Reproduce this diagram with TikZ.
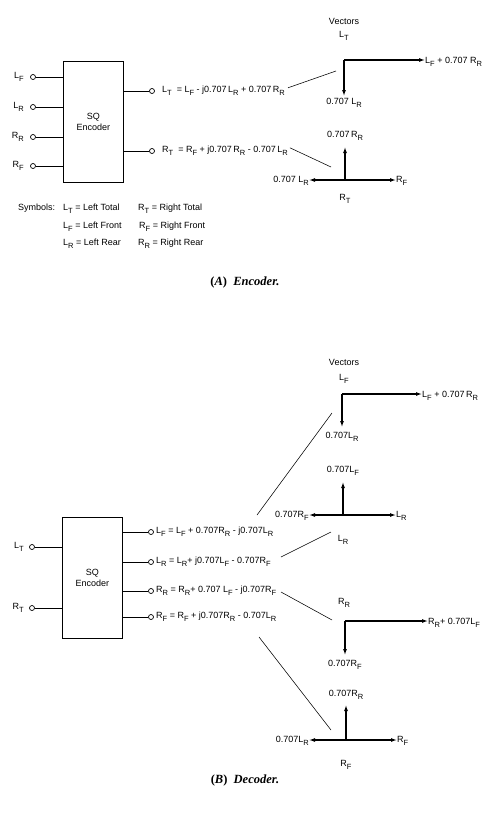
\documentclass[tikz,border=0pt]{standalone}
\usepackage{fontspec}
\setmainfont{Liberation Sans}
\newfontfamily\capfont{Liberation Serif}
\usetikzlibrary{arrows.meta,calc}
\newcommand\Sb[1]{\raisebox{-0.6ex}{\fontsize{7.5}{8}\selectfont #1}}
\newcommand\Lq[1]{L\Sb{#1}}
\newcommand\Rq[1]{R\Sb{#1}}
\begin{document}
\begin{tikzpicture}[x=1pt,y=-1pt,font=\fontsize{9}{10.5}\selectfont,
  blk/.style={draw,line width=0.8pt,minimum width=60pt,minimum height=121pt,anchor=north west,align=center,inner sep=0pt},
  term/.style={circle,draw,fill=white,inner sep=0pt,minimum size=5pt,line width=0.7pt},
  wire/.style={line width=0.9pt},
  vec/.style={line width=1.1pt,-{Latex[length=6pt,width=4pt]}},
  lead/.style={line width=0.55pt},
  txt/.style={inner sep=0pt},
  captxt/.style={inner sep=0pt,font=\capfont\bfseries\fontsize{12.5}{14}\selectfont}]
\useasboundingbox (0,0) rectangle (498,817);
% ================= ENCODER =================
\node[blk] (enc) at (63,61) {SQ\\Encoder};
\foreach \n/\y/\t in {iLF/77/\Lq{F}, iLR/107/\Lq{R}, iRR/137/\Rq{R}, iRF/166/\Rq{F}}{
  \node[term] (\n) at (33,\y) {};
  \node[txt,anchor=mid east] (\n l) at (24,\y-1) {\t};
  \draw[wire] (\n.east) -- (\n.east -| enc.west);
}
\node[term] (oLT) at (152,91) {};
\node[term] (oRT) at (152,151) {};
\draw[wire] (enc.east |- oLT) -- (oLT.west);
\draw[wire] (enc.east |- oRT) -- (oRT.west);
\node[txt,anchor=mid west] (eLT) at (162,90) {\Lq{T}\ \ = \Lq{F} - j0.707\,\Lq{R} + 0.707\,\Rq{R}};
\node[txt,anchor=mid west] (eRT) at (162,150) {\Rq{T}\ \ = \Rq{F} + j0.707\,\Rq{R} - 0.707\,\Lq{R}};
% vectors
\node[txt] (vecA) at (344,21) {Vectors};
\node[txt] (ltA) at (344,36) {\Lq{T}};
\coordinate (cLT) at (344,60);
\node[txt,anchor=mid west] (cLTr) at (425,61) {\Lq{F} + 0.707 \Rq{R}};
\node[txt,anchor=north] (cLTd) at (344,98) {0.707 \Lq{R}};
\draw[vec] (cLT) -- (cLT -| cLTr.west);
\draw[vec,shorten >=2pt] (cLT) -- (cLT |- cLTd.north);
\coordinate (cRT) at (345,180);
\node[txt] (cRTu) at (345,136) {0.707\,\Rq{R}};
\node[txt,anchor=mid east] (cRTl) at (309,180) {0.707 \Lq{R}};
\node[txt,anchor=mid west] (cRTr) at (396,180) {\Rq{F}};
\node[txt] (cRTb) at (345,199) {\Rq{T}};
\draw[vec] (cRT) -- (345,147);
\draw[vec] (cRT) -- (cRT -| cRTl.east);
\draw[vec] (cRT) -- (cRT -| cRTr.west);
\coordinate (aA1) at (336,71);
\coordinate (aA2) at (331,167);
\draw[lead] ($(eLT.east)+(3,-3)$) -- (aA1);
\draw[lead] ($(eRT.east)+(2,-3)$) -- (aA2);
% symbols
\node[txt,anchor=mid west] (sym) at (18,208) {Symbols:};
\node[txt,anchor=mid west] (s1) at (63,208) {\Lq{T} = Left Total};
\node[txt,anchor=mid west] (s2) at (63,226) {\Lq{F} = Left Front};
\node[txt,anchor=mid west] (s3) at (63,243) {\Lq{R} = Left Rear};
\node[txt,anchor=mid west] (s4) at (138,208) {\Rq{T} = Right Total};
\node[txt,anchor=mid west] (s5) at (139,226) {\Rq{F} = Right Front};
\node[txt,anchor=mid west] (s6) at (138,243) {\Rq{R} = Right Rear};
\node[captxt] (capA) at (245,282) {(\textit{A})\ \ \textit{Encoder.}};
% ================= DECODER =================
\node[blk] (dec) at (62,517) {SQ\\Encoder};
\node[term] (iLT) at (32,547) {};
\node[term] (iRT) at (32,608) {};
\node[txt,anchor=mid east] (iLTl) at (24,546) {\Lq{T}};
\node[txt,anchor=mid east] (iRTl) at (24,607) {\Rq{T}};
\draw[wire] (iLT.east) -- (iLT.east -| dec.west);
\draw[wire] (iRT.east) -- (iRT.east -| dec.west);
\foreach \n/\y in {o1/532, o2/562, o3/591, o4/617}{
  \node[term] (\n) at (151,\y) {};
  \draw[wire] (dec.east |- \n) -- (\n.west);
}
\node[txt,anchor=mid west] (e1) at (156,531) {\Lq{F} = \Lq{F} + 0.707\Rq{R} - j0.707\Lq{R}};
\node[txt,anchor=mid west] (e2) at (156,561) {\Lq{R} = \Lq{R}+ j0.707\Lq{F} - 0.707\Rq{F}};
\node[txt,anchor=mid west] (e3) at (156,590) {\Rq{R} = \Rq{R}+ 0.707 \Lq{F} - j0.707\Rq{F}};
\node[txt,anchor=mid west] (e4) at (156,616) {\Rq{F} = \Rq{F} + j0.707\Rq{R} - 0.707\Lq{R}};
% vectors
\node[txt] (vecB) at (344,362) {Vectors};
\node[txt] (lfB) at (344,379) {\Lq{F}};
\coordinate (c1) at (342,394);
\node[txt,anchor=mid west] (c1r) at (422,395) {\Lq{F} + 0.707\,\Rq{R}};
\node[txt,anchor=north] (c1d) at (342,432) {0.707\Lq{R}};
\draw[vec] (c1) -- (c1 -| c1r.west);
\draw[vec] (c1) -- (342,427);
\coordinate (c2) at (343,515);
\node[txt] (c2u) at (343,471) {0.707\Lq{F}};
\node[txt,anchor=mid east] (c2l) at (309,515) {0.707\Rq{F}};
\node[txt,anchor=mid west] (c2r) at (396,515) {\Lq{R}};
\node[txt] (c2b) at (343,540) {\Lq{R}};
\draw[vec] (c2) -- (343,482);
\draw[vec] (c2) -- (c2 -| c2l.east);
\draw[vec] (c2) -- (c2 -| c2r.west);
\node[txt] (rrB) at (344,603) {\Rq{R}};
\coordinate (c3) at (345,621);
\node[txt,anchor=mid west] (c3r) at (428,622) {\Rq{R}+ 0.707\Lq{F}};
\node[txt,anchor=north] (c3d) at (345,660) {0.707\Rq{F}};
\draw[vec] (c3) -- (c3 -| c3r.west);
\draw[vec] (c3) -- (345,655);
\coordinate (c4) at (346,740);
\node[txt] (c4u) at (346,695) {0.707\Rq{R}};
\node[txt,anchor=mid east] (c4l) at (309,740) {0.707\Lq{R}};
\node[txt,anchor=mid west] (c4r) at (397,740) {\Rq{F}};
\node[txt] (c4b) at (346,765) {\Rq{F}};
\draw[vec] (c4) -- (346,705);
\draw[vec] (c4) -- (c4 -| c4l.east);
\draw[vec] (c4) -- (c4 -| c4r.west);
% leads
\coordinate (b1a) at (257,515); \coordinate (b1b) at (332,413);
\coordinate (b2a) at (281,557); \coordinate (b2b) at (331,532);
\coordinate (b3a) at (281,592); \coordinate (b3b) at (332,620);
\coordinate (b4a) at (259,637); \coordinate (b4b) at (331,730);
\draw[lead] (b1a) -- (b1b);
\draw[lead] (b2a) -- (b2b);
\draw[lead] (b3a) -- (b3b);
\draw[lead] (b4a) -- (b4b);
\node[captxt] (capB) at (245,780) {(\textit{B})\ \ \textit{Decoder.}};
\end{tikzpicture}
\end{document}
